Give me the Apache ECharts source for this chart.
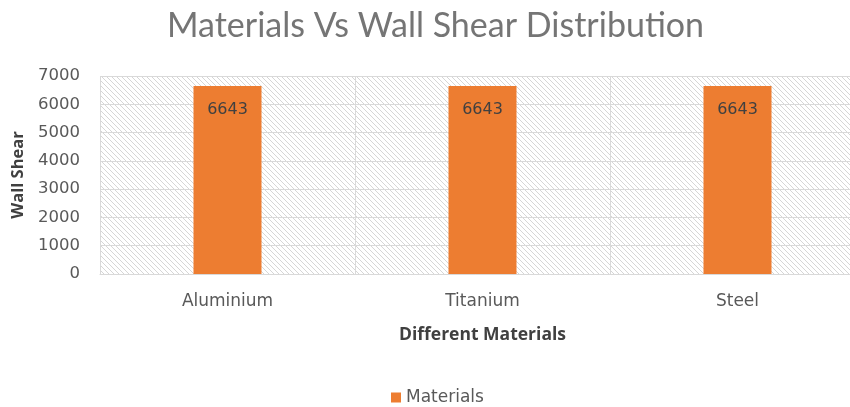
<!DOCTYPE html>
<html><head><meta charset="utf-8">
<script src="https://cdn.jsdelivr.net/npm/echarts@6/dist/echarts.min.js"></script>
<style>html,body{margin:0;padding:0;background:#fff}#c{width:850px;height:407px}</style>
</head><body><div id="c"></div>
<script>
const categories = ['Aluminium', 'Titanium', 'Steel'];
const materialsValues = [6643, 6643, 6643];
const seriesName = 'Materials';

function hatch() {
  const s = 5;
  const c = document.createElement('canvas');
  c.width = s; c.height = s;
  const g = c.getContext('2d');
  g.fillStyle = '#ffffff'; g.fillRect(0, 0, s, s);
  g.strokeStyle = '#d6d6d6'; g.lineWidth = 1;
  g.beginPath();
  g.moveTo(-1, -1); g.lineTo(s + 1, s + 1);
  g.moveTo(-1, s - 1); g.lineTo(1, s + 1);
  g.moveTo(s - 1, -1); g.lineTo(s + 1, 1);
  g.stroke();
  return c;
}

const chart = echarts.init(document.getElementById('c'), null, {renderer: 'canvas'});
chart.setOption({
  animation: false,
  title: {
    text: 'Materials Vs Wall Shear Distribution',
    left: 162, top: 4,
    textStyle: {fontFamily: 'Lato', fontSize: 34, fontWeight: 'normal', color: '#757575'}
  },
  grid: {
    left: 100, top: 76, width: 765, height: 198,
    outerBoundsMode: 'none', containLabel: false,
    show: true, borderWidth: 0,
    backgroundColor: {image: hatch(), repeat: 'repeat'}
  },
  legend: {
    top: 384, left: 386,
    icon: 'rect', itemWidth: 10, itemHeight: 10, itemGap: 6,
    textStyle: {fontFamily: 'DejaVu Sans', fontSize: 17, color: '#595959'},
    data: [seriesName]
  },
  xAxis: {
    type: 'category', data: categories,
    name: 'Different Materials', nameLocation: 'middle', nameGap: 52,
    nameTextStyle: {fontFamily: 'Open Sans', fontSize: 17.5, fontWeight: 'bold', color: '#404040'},
    axisLine: {show: true, lineStyle: {color: '#d9d9d9'}},
    axisTick: {show: false},
    axisLabel: {fontFamily: 'DejaVu Sans', fontSize: 17, color: '#595959', margin: 19},
    splitLine: {show: true, lineStyle: {color: '#d9d9d9'}}
  },
  yAxis: {
    type: 'value', min: 0, max: 7000, interval: 1000,
    name: 'Wall Shear', nameLocation: 'middle', nameGap: 70,
    nameTextStyle: {fontFamily: 'Open Sans', fontSize: 16.5, fontWeight: 'bold', color: '#404040'},
    axisLine: {show: false}, axisTick: {show: false},
    axisLabel: {fontFamily: 'DejaVu Sans', fontSize: 16.5, color: '#595959', margin: 20,
      formatter: function (v) { return String(v); }},
    splitLine: {show: true, lineStyle: {color: '#d9d9d9'}}
  },
  series: [{
    name: seriesName, type: 'bar', data: materialsValues,
    barWidth: 68,
    itemStyle: {color: '#ED7D31'},
    label: {show: true, position: 'insideTop', distance: 16,
      fontFamily: 'DejaVu Sans', fontSize: 16, color: '#404040'}
  }]
});
</script></body></html>
